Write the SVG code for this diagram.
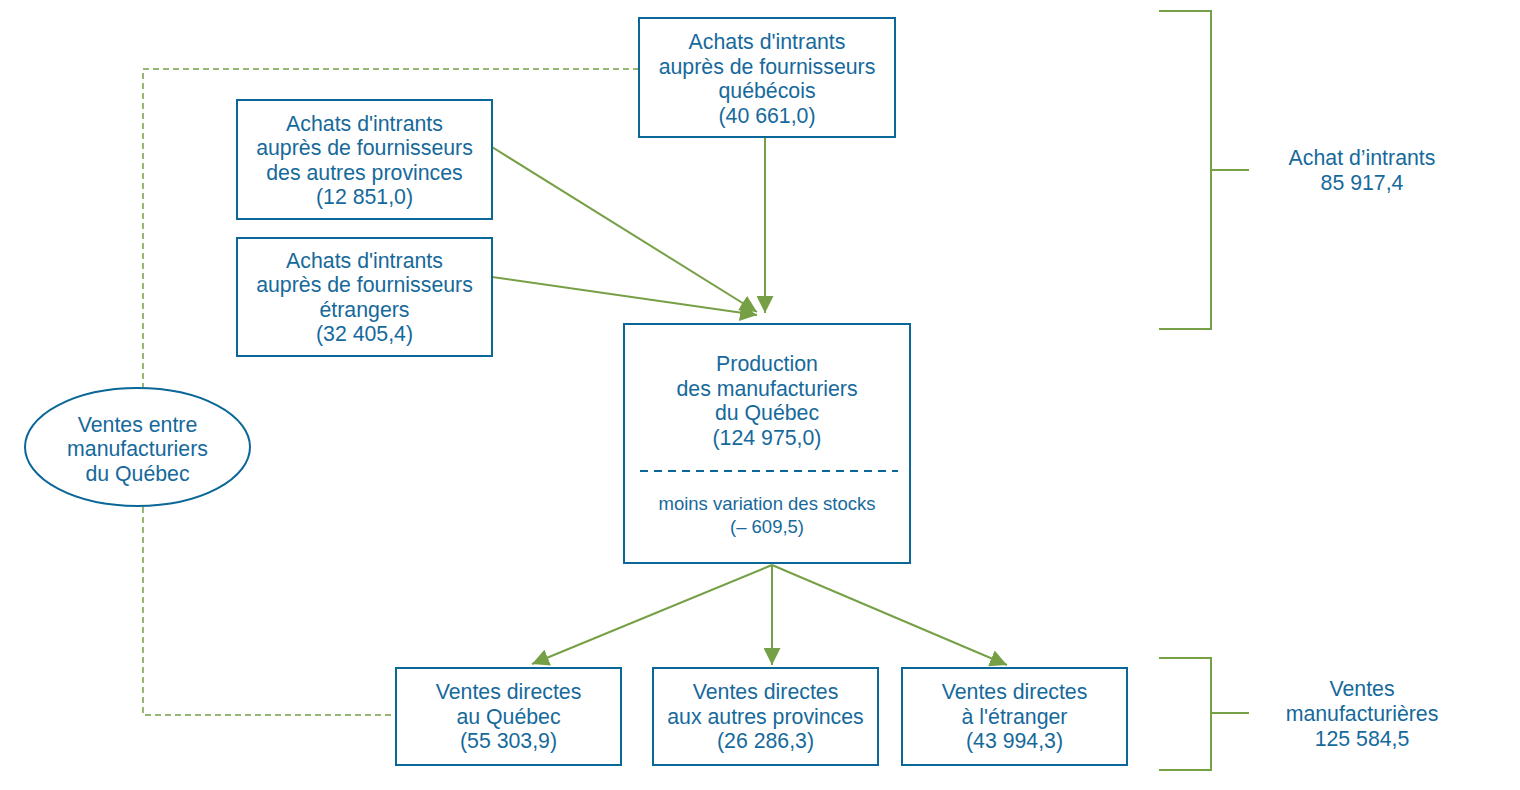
<svg xmlns="http://www.w3.org/2000/svg" width="1520" height="790" viewBox="0 0 1520 790">
<style>
.box{fill:#fff;stroke:#0b6797;stroke-width:2}
.t{font-family:"Liberation Sans",Arial,sans-serif;font-size:21.3px;fill:#16699b;text-anchor:middle}
.s{font-family:"Liberation Sans",Arial,sans-serif;font-size:18.5px;fill:#16699b;text-anchor:middle}
.g{fill:none;stroke:#76a045;stroke-width:2}
.gd{fill:none;stroke:#76a045;stroke-width:1.5;stroke-dasharray:6,4}
.a{stroke:#76a045;stroke-width:2;marker-end:url(#ah)}
</style>
<defs>
<marker id="ah" viewBox="0 0 10 10" refX="10" refY="5" markerWidth="8.5" markerHeight="8.5" orient="auto">
<path d="M0,0 L10,5 L0,10 z" fill="#76a045"/>
</marker>
</defs>
<g id="connectors">
<polyline class="gd" points="639,69 143,69 143,387"/>
<polyline class="gd" points="143,507 143,715 396,715"/>
<line class="a" x1="492" y1="147" x2="757" y2="312"/>
<line class="a" x1="492" y1="277" x2="757" y2="315"/>
<line class="a" x1="765" y1="137" x2="765" y2="313"/>
<line class="a" x1="772" y1="565" x2="532" y2="664"/>
<line class="a" x1="772" y1="565" x2="772" y2="665"/>
<line class="a" x1="772" y1="565" x2="1007" y2="665"/>
<polyline class="g" points="1159,11 1211,11 1211,329 1159,329"/>
<line class="g" x1="1211" y1="170" x2="1249" y2="170"/>
<polyline class="g" points="1159,658 1211,658 1211,770 1159,770"/>
<line class="g" x1="1211" y1="713" x2="1249" y2="713"/>
</g>
<g id="n-quebecois">
<rect class="box" x="639" y="18" width="256" height="119"/>
<text class="t"><tspan x="767" y="49">Achats d'intrants</tspan><tspan x="767" y="74">auprès de fournisseurs</tspan><tspan x="767" y="98">québécois</tspan><tspan x="767" y="123">(40 661,0)</tspan></text>
</g>
<g id="n-provinces">
<rect class="box" x="237" y="100" width="255" height="119"/>
<text class="t"><tspan x="364.5" y="131">Achats d'intrants</tspan><tspan x="364.5" y="155">auprès de fournisseurs</tspan><tspan x="364.5" y="180">des autres provinces</tspan><tspan x="364.5" y="204">(12 851,0)</tspan></text>
</g>
<g id="n-etrangers">
<rect class="box" x="237" y="238" width="255" height="118"/>
<text class="t"><tspan x="364.5" y="268">Achats d'intrants</tspan><tspan x="364.5" y="292">auprès de fournisseurs</tspan><tspan x="364.5" y="317">étrangers</tspan><tspan x="364.5" y="341">(32 405,4)</tspan></text>
</g>
<g id="n-production">
<rect class="box" x="624" y="324" width="286" height="239"/>
<text class="t"><tspan x="767" y="371">Production</tspan><tspan x="767" y="396">des manufacturiers</tspan><tspan x="767" y="420">du Québec</tspan><tspan x="767" y="445">(124 975,0)</tspan></text>
<line x1="640" y1="471" x2="898" y2="471" stroke="#0b6797" stroke-width="2" stroke-dasharray="8,6"/>
<text class="s"><tspan x="767" y="510">moins variation des stocks</tspan><tspan x="767" y="533">(– 609,5)</tspan></text>
</g>
<g id="n-ventes-entre">
<ellipse cx="137.5" cy="447" rx="112.5" ry="59" fill="#fff" stroke="#0b6797" stroke-width="2"/>
<text class="t"><tspan x="137.5" y="432">Ventes entre</tspan><tspan x="137.5" y="456">manufacturiers</tspan><tspan x="137.5" y="481">du Québec</tspan></text>
</g>
<g id="n-vd-quebec">
<rect class="box" x="396" y="668" width="225" height="97"/>
<text class="t"><tspan x="508.5" y="699">Ventes directes</tspan><tspan x="508.5" y="724">au Québec</tspan><tspan x="508.5" y="748">(55 303,9)</tspan></text>
</g>
<g id="n-vd-provinces">
<rect class="box" x="653" y="668" width="225" height="97"/>
<text class="t"><tspan x="765.5" y="699">Ventes directes</tspan><tspan x="765.5" y="724">aux autres provinces</tspan><tspan x="765.5" y="748">(26 286,3)</tspan></text>
</g>
<g id="n-vd-etranger">
<rect class="box" x="902" y="668" width="225" height="97"/>
<text class="t"><tspan x="1014.5" y="699">Ventes directes</tspan><tspan x="1014.5" y="724">à l'étranger</tspan><tspan x="1014.5" y="748">(43 994,3)</tspan></text>
</g>
<g id="l-achat">
<text class="t"><tspan x="1362" y="165">Achat d’intrants</tspan><tspan x="1362" y="190">85 917,4</tspan></text>
</g>
<g id="l-ventes">
<text class="t"><tspan x="1362" y="696">Ventes</tspan><tspan x="1362" y="721">manufacturières</tspan><tspan x="1362" y="746">125 584,5</tspan></text>
</g>
</svg>
